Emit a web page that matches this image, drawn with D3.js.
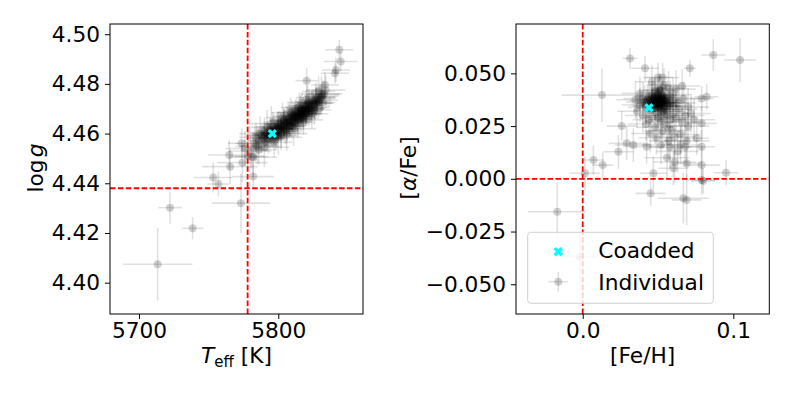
<!DOCTYPE html>
<html>
<head>
<meta charset="utf-8">
<script src="https://cdn.jsdelivr.net/npm/d3@7"></script>
<style>
  body { margin: 0; background: #fff; }
  svg { font-family: "DejaVu Sans", sans-serif; }
</style>
</head>
<body>
<svg id="chart" width="793" height="397"></svg>
<script>
// individual spectra: [Teff, logg, err Teff, err logg]
const teffLogg = [
  [5713.4, 4.4074, 25, 0.0146], [5722.3, 4.4302, 8.6, 0.0065], [5738.5, 4.4219, 7.8, 0.0045],
  [5773.2, 4.4320, 21, 0.012], [5753.3, 4.4423, 14, 0.006], [5757, 4.4397, 8, 0.005],
  [5764.8, 4.4514, 15, 0.006], [5765.4, 4.4467, 20, 0.007], [5774.2, 4.4483, 18, 0.008],
  [5773.7, 4.4561, 10, 0.006], [5780.9, 4.4507, 12, 0.005], [5782, 4.4427, 15, 0.005],
  [5843.8, 4.4937, 10, 0.004], [5844.8, 4.4890, 12, 0.004], [5841.4, 4.4856, 10, 0.005],
  [5840.7, 4.4843, 10, 0.004], [5833.5, 4.4796, 10, 0.005], [5820.4, 4.4813, 8, 0.005],
  [5831.2, 4.4749, 12, 0.005], [5827.6, 4.4722, 12, 0.005],
  [5788, 4.4572, 10, 0.005], [5790, 4.4590, 12, 0.006], [5791, 4.4566, 9, 0.004],
  [5792, 4.4601, 11, 0.005], [5793, 4.4580, 14, 0.006], [5794, 4.4612, 10, 0.005],
  [5795, 4.4595, 12, 0.005], [5796, 4.4583, 9, 0.004], [5797, 4.4620, 13, 0.006],
  [5798, 4.4604, 10, 0.005], [5799, 4.4591, 11, 0.005], [5800, 4.4628, 12, 0.006],
  [5800, 4.4610, 9, 0.004], [5801, 4.4640, 10, 0.005], [5802, 4.4602, 14, 0.006],
  [5803, 4.4625, 11, 0.005], [5804, 4.4648, 10, 0.005], [5805, 4.4617, 12, 0.006],
  [5806, 4.4636, 9, 0.004], [5807, 4.4660, 13, 0.006], [5808, 4.4630, 10, 0.005],
  [5809, 4.4651, 11, 0.005], [5810, 4.4672, 12, 0.006], [5811, 4.4642, 9, 0.004],
  [5812, 4.4663, 10, 0.005], [5813, 4.4684, 14, 0.006], [5814, 4.4655, 11, 0.005],
  [5815, 4.4676, 10, 0.005], [5816, 4.4695, 12, 0.006], [5817, 4.4668, 9, 0.004],
  [5818, 4.4688, 13, 0.006], [5819, 4.4706, 10, 0.005], [5820, 4.4680, 11, 0.005],
  [5821, 4.4700, 12, 0.006], [5822, 4.4718, 10, 0.005], [5823, 4.4693, 9, 0.004],
  [5824, 4.4712, 13, 0.006], [5825, 4.4730, 10, 0.005], [5826, 4.4705, 11, 0.005],
  [5827, 4.4724, 12, 0.006], [5828, 4.4742, 10, 0.005],
  [5789, 4.4581, 11, 0.005], [5791, 4.4598, 10, 0.005], [5793, 4.4594, 12, 0.005],
  [5795, 4.4607, 10, 0.005], [5797, 4.4603, 11, 0.005], [5798, 4.4616, 9, 0.004],
  [5799, 4.4622, 12, 0.006], [5801, 4.4619, 10, 0.005], [5802, 4.4634, 11, 0.005],
  [5803, 4.4610, 9, 0.004], [5804, 4.4630, 12, 0.006], [5805, 4.4642, 10, 0.005],
  [5806, 4.4621, 11, 0.005], [5807, 4.4645, 9, 0.004], [5808, 4.4655, 12, 0.006],
  [5809, 4.4635, 10, 0.005], [5810, 4.4658, 11, 0.005], [5811, 4.4665, 9, 0.004],
  [5812, 4.4648, 12, 0.006], [5813, 4.4670, 10, 0.005], [5814, 4.4679, 11, 0.005],
  [5815, 4.4660, 9, 0.004], [5816, 4.4682, 12, 0.006], [5817, 4.4690, 10, 0.005],
  [5818, 4.4673, 11, 0.005], [5819, 4.4693, 9, 0.004], [5820, 4.4700, 12, 0.006],
  [5821, 4.4686, 10, 0.005], [5822, 4.4703, 11, 0.005], [5824, 4.4698, 9, 0.004],
  [5826, 4.4720, 12, 0.006],
  [5796, 4.4612, 10, 0.005], [5798, 4.4598, 12, 0.005], [5800, 4.4620, 10, 0.005],
  [5802, 4.4618, 11, 0.005], [5804, 4.4638, 10, 0.005], [5806, 4.4650, 12, 0.006],
  [5808, 4.4640, 10, 0.005], [5810, 4.4650, 11, 0.005], [5812, 4.4672, 10, 0.005],
  [5814, 4.4668, 12, 0.006], [5816, 4.4673, 10, 0.005], [5818, 4.4697, 11, 0.005],
  [5790, 4.4605, 12, 0.006], [5792, 4.4578, 10, 0.005], [5794, 4.4590, 11, 0.005],
  [5796, 4.4627, 12, 0.006], [5798, 4.4585, 10, 0.005], [5800, 4.4640, 11, 0.005],
  [5802, 4.4592, 12, 0.006], [5804, 4.4655, 10, 0.005], [5806, 4.4610, 11, 0.005],
  [5808, 4.4668, 12, 0.006], [5810, 4.4630, 10, 0.005], [5812, 4.4685, 11, 0.005],
  [5814, 4.4645, 12, 0.006], [5816, 4.4700, 10, 0.005], [5818, 4.4662, 11, 0.005],
  [5820, 4.4712, 12, 0.006], [5822, 4.4680, 10, 0.005], [5824, 4.4725, 11, 0.005],
  [5826, 4.4695, 12, 0.006], [5828, 4.4730, 10, 0.005], [5830, 4.4748, 11, 0.005],
  [5832, 4.4755, 12, 0.006], [5786, 4.4570, 11, 0.005], [5788, 4.4592, 10, 0.005],
  [5784, 4.4552, 12, 0.006],
  [5815, 4.4690, 11, 0.005], [5817, 4.4705, 12, 0.006], [5819, 4.4680, 10, 0.005],
  [5821, 4.4712, 11, 0.005], [5823, 4.4705, 12, 0.006], [5825, 4.4718, 10, 0.005],
  [5827, 4.4735, 11, 0.005], [5829, 4.4725, 12, 0.006], [5831, 4.4742, 10, 0.005],
  [5833, 4.4760, 11, 0.005], [5820, 4.4692, 12, 0.006], [5822, 4.4728, 10, 0.005],
  [5817, 4.4677, 11, 0.005], [5813, 4.4660, 12, 0.006], [5811, 4.4675, 10, 0.005],
  [5783, 4.4560, 14, 0.007], [5785, 4.4548, 16, 0.007], [5784, 4.4585, 12, 0.006],
  [5787, 4.4600, 15, 0.007], [5786, 4.4535, 13, 0.006], [5790, 4.4545, 18, 0.008],
  [5792, 4.4625, 14, 0.007], [5795, 4.4640, 16, 0.007], [5797, 4.4565, 13, 0.006],
  [5800, 4.4585, 17, 0.007], [5803, 4.4665, 12, 0.006], [5806, 4.4600, 15, 0.007],
  [5809, 4.4685, 14, 0.006], [5811, 4.4620, 16, 0.007], [5815, 4.4705, 13, 0.006],
  [5818, 4.4655, 14, 0.006], [5821, 4.4725, 15, 0.007], [5824, 4.4680, 12, 0.006],
  [5827, 4.4745, 14, 0.006], [5830, 4.4735, 13, 0.006], [5831, 4.4760, 15, 0.007],
  [5829, 4.4770, 12, 0.006], [5834, 4.4775, 14, 0.006], [5780, 4.4530, 15, 0.007],
  [5778, 4.4510, 12, 0.006], [5782, 4.4505, 17, 0.008], [5776, 4.4540, 14, 0.007]
];

// individual spectra: [[Fe/H], [alpha/Fe], err Fe/H, err alpha/Fe]
const fehAlpha = [
  [0.046, 0.0360, 0.010, 0.007], [0.048, 0.0372, 0.012, 0.008], [0.050, 0.0355, 0.009, 0.006],
  [0.052, 0.0380, 0.011, 0.007], [0.049, 0.0390, 0.010, 0.007], [0.051, 0.0345, 0.012, 0.008],
  [0.053, 0.0365, 0.010, 0.007], [0.047, 0.0335, 0.011, 0.007], [0.054, 0.0350, 0.009, 0.006],
  [0.050, 0.0400, 0.012, 0.008], [0.045, 0.0375, 0.010, 0.007], [0.055, 0.0385, 0.011, 0.007],
  [0.048, 0.0350, 0.010, 0.007], [0.052, 0.0330, 0.012, 0.008], [0.043, 0.0355, 0.011, 0.007],
  [0.056, 0.0360, 0.010, 0.007], [0.049, 0.0365, 0.009, 0.006], [0.051, 0.0375, 0.011, 0.007],
  [0.047, 0.0385, 0.012, 0.008], [0.053, 0.0395, 0.010, 0.007], [0.044, 0.0345, 0.011, 0.007],
  [0.050, 0.0340, 0.010, 0.007], [0.054, 0.0372, 0.012, 0.008], [0.046, 0.0395, 0.010, 0.007],
  [0.052, 0.0358, 0.009, 0.006], [0.049, 0.0378, 0.011, 0.007], [0.041, 0.0365, 0.012, 0.008],
  [0.057, 0.0345, 0.010, 0.007], [0.045, 0.0325, 0.011, 0.007], [0.053, 0.0320, 0.012, 0.008],
  [0.048, 0.0410, 0.010, 0.007], [0.051, 0.0420, 0.011, 0.007], [0.040, 0.0380, 0.013, 0.008],
  [0.038, 0.0350, 0.012, 0.008], [0.058, 0.0395, 0.011, 0.007], [0.047, 0.0368, 0.010, 0.007],
  [0.050, 0.0383, 0.009, 0.006], [0.052, 0.0368, 0.011, 0.007], [0.055, 0.0330, 0.012, 0.008],
  [0.044, 0.0390, 0.010, 0.007],
  [0.049, 0.0352, 0.010, 0.007], [0.051, 0.0362, 0.011, 0.007], [0.047, 0.0357, 0.010, 0.007],
  [0.053, 0.0377, 0.012, 0.008], [0.050, 0.0370, 0.009, 0.006], [0.048, 0.0387, 0.011, 0.007],
  [0.052, 0.0392, 0.010, 0.007], [0.046, 0.0345, 0.012, 0.008], [0.054, 0.0342, 0.010, 0.007],
  [0.050, 0.0360, 0.011, 0.007],
  [0.050, 0.0365, 0.010, 0.007], [0.052, 0.0372, 0.011, 0.007], [0.054, 0.0362, 0.010, 0.007],
  [0.048, 0.0360, 0.012, 0.008], [0.051, 0.0352, 0.010, 0.007], [0.053, 0.0385, 0.011, 0.007],
  [0.049, 0.0345, 0.010, 0.007], [0.055, 0.0370, 0.012, 0.008], [0.046, 0.0380, 0.010, 0.007],
  [0.052, 0.0348, 0.011, 0.007], [0.043, 0.0370, 0.012, 0.008], [0.058, 0.0360, 0.012, 0.008],
  [0.056, 0.0320, 0.012, 0.008], [0.060, 0.0345, 0.013, 0.008], [0.042, 0.0340, 0.012, 0.008],
  [0.055, 0.0300, 0.012, 0.008], [0.058, 0.0280, 0.013, 0.009], [0.052, 0.0270, 0.011, 0.008],
  [0.060, 0.0310, 0.012, 0.008], [0.062, 0.0290, 0.014, 0.009], [0.056, 0.0250, 0.013, 0.009],
  [0.050, 0.0290, 0.012, 0.008], [0.064, 0.0330, 0.012, 0.008], [0.066, 0.0270, 0.014, 0.009],
  [0.059, 0.0230, 0.013, 0.009], [0.053, 0.0225, 0.012, 0.008], [0.068, 0.0300, 0.013, 0.009],
  [0.061, 0.0200, 0.014, 0.010], [0.057, 0.0180, 0.013, 0.009], [0.070, 0.0250, 0.014, 0.009],
  [0.065, 0.0210, 0.013, 0.009], [0.048, 0.0245, 0.012, 0.008], [0.044, 0.0280, 0.011, 0.008],
  [0.040, 0.0300, 0.012, 0.008], [0.036, 0.0320, 0.013, 0.008], [0.063, 0.0360, 0.012, 0.008],
  [0.067, 0.0380, 0.013, 0.008], [0.060, 0.0400, 0.012, 0.008], [0.062, 0.0425, 0.013, 0.009],
  [0.057, 0.0430, 0.012, 0.008], [0.054, 0.0445, 0.011, 0.008], [0.070, 0.0340, 0.014, 0.009],
  [0.072, 0.0310, 0.013, 0.009], [0.058, 0.0150, 0.014, 0.010], [0.052, 0.0160, 0.013, 0.009],
  [0.063, 0.0130, 0.014, 0.010], [0.056, 0.0100, 0.015, 0.010], [0.049, 0.0195, 0.012, 0.008],
  [0.045, 0.0215, 0.013, 0.009], [0.074, 0.0280, 0.014, 0.010], [0.069, 0.0180, 0.015, 0.010],
  [0.061, 0.0080, 0.014, 0.010], [0.051, 0.0420, 0.012, 0.008], [0.046, 0.0460, 0.011, 0.008],
  [0.050, 0.0480, 0.010, 0.007], [0.053, 0.0480, 0.011, 0.007], [0.066, 0.0440, 0.012, 0.008],
  [0.038, 0.0405, 0.012, 0.008], [0.035, 0.0375, 0.013, 0.009], [0.042, 0.0260, 0.012, 0.008],
  [0.065, 0.0160, 0.013, 0.009],
  [0.0314, 0.0571, 0.005, 0.005], [0.0414, 0.0524, 0.009, 0.006], [0.0867, 0.0587, 0.008, 0.0075],
  [0.1045, 0.0563, 0.0105, 0.0105], [0.0712, 0.0524, 0.004, 0.004], [0.0128, 0.0397, 0.027, 0.0126],
  [0.0259, 0.0250, 0.010, 0.007], [0.0071, 0.0089, 0.007, 0.007], [0.0133, 0.0065, 0.007, 0.006],
  [0.0015, 0.0026, 0.010, 0.008], [-0.0169, -0.0156, 0.0194, 0.014], [-0.0018, -0.0370, 0.012, 0.012],
  [0.0451, -0.0069, 0.010, 0.006], [0.0469, 0.0026, 0.009, 0.008], [0.0602, 0.0050, 0.010, 0.008],
  [0.0668, -0.0092, 0.017, 0.012], [0.0690, -0.0100, 0.010, 0.012], [0.0790, 0.0065, 0.012, 0.009],
  [0.0790, -0.0006, 0.010, 0.007], [0.0952, 0.0029, 0.008, 0.006], [0.0800, -0.0010, 0.008, 0.006],
  [0.0690, 0.0073, 0.010, 0.008], [0.0790, 0.0152, 0.009, 0.008], [0.0679, 0.0152, 0.009, 0.008],
  [0.0757, 0.0192, 0.008, 0.008], [0.0790, 0.0263, 0.010, 0.008], [0.0823, 0.0389, 0.008, 0.006],
  [0.0790, 0.0381, 0.008, 0.006], [0.0237, 0.0128, 0.010, 0.008], [0.0336, 0.0160, 0.012, 0.008],
  [0.0292, 0.0168, 0.012, 0.008], [0.0425, 0.0152, 0.012, 0.008]
];

// coadded spectrum
const coaddTeffLogg = [5795.7, 4.460];
const coaddFehAlpha = [0.044, 0.0337];

// solar reference lines
const sunTeffLogg = [5778, 4.438];
const sunFehAlpha = [0, 0];

const teffTicks = [5700, 5800];
const loggTicks = [4.40, 4.42, 4.44, 4.46, 4.48, 4.50];
const fehTicks = [0.0, 0.1];
const alphaTicks = [-0.050, -0.025, 0.000, 0.025, 0.050];

const legendLabels = ["Coadded", "Individual"];

const svg = d3.select("#chart");
const fontSize = 21.7;
const plotTop = 24, plotBottom = 314;
const lineAlpha = 0.12, markAlpha = 0.18;

function drawPanel(opts) {
  const x = d3.scaleLinear().domain(opts.xDomain).range([opts.left, opts.right]);
  const y = d3.scaleLinear().domain(opts.yDomain).range([plotBottom, plotTop]);
  const g = svg.append("g");

  const clipId = "clip" + opts.id;
  svg.append("clipPath").attr("id", clipId)
    .append("rect")
    .attr("x", opts.left).attr("y", plotTop)
    .attr("width", opts.right - opts.left).attr("height", plotBottom - plotTop);

  const plot = g.append("g").attr("clip-path", `url(#${clipId})`);

  // error bars
  const pts = plot.selectAll(".pt").data(opts.data).enter().append("g").attr("class", "pt");
  pts.append("line")
    .attr("x1", d => x(d[0] - d[2])).attr("x2", d => x(d[0] + d[2]))
    .attr("y1", d => y(d[1])).attr("y2", d => y(d[1]))
    .attr("stroke", "#000").attr("stroke-opacity", lineAlpha).attr("stroke-width", 1.6);
  pts.append("line")
    .attr("x1", d => x(d[0])).attr("x2", d => x(d[0]))
    .attr("y1", d => y(d[1] - d[3])).attr("y2", d => y(d[1] + d[3]))
    .attr("stroke", "#000").attr("stroke-opacity", lineAlpha).attr("stroke-width", 1.6);
  pts.append("circle")
    .attr("cx", d => x(d[0])).attr("cy", d => y(d[1])).attr("r", 4)
    .attr("fill", "#000").attr("fill-opacity", markAlpha);

  // reference lines
  plot.append("line")
    .attr("x1", x(opts.sun[0])).attr("x2", x(opts.sun[0]))
    .attr("y1", plotTop).attr("y2", plotBottom)
    .attr("stroke", "red").attr("stroke-width", 1.8).attr("stroke-dasharray", "5.5,2.4");
  plot.append("line")
    .attr("x1", opts.left).attr("x2", opts.right)
    .attr("y1", y(opts.sun[1])).attr("y2", y(opts.sun[1]))
    .attr("stroke", "red").attr("stroke-width", 1.8).attr("stroke-dasharray", "5.5,2.4");

  // coadded marker
  plot.append("path")
    .attr("d", d3.symbol(d3.symbolCross, 55)())
    .attr("transform", `translate(${x(opts.coadd[0])},${y(opts.coadd[1])}) rotate(45)`)
    .attr("fill", "cyan");

  // axes
  const xAxis = g.append("g")
    .attr("transform", `translate(0,${plotBottom})`)
    .call(d3.axisBottom(x).tickValues(opts.xTicks).tickFormat(d3.format(opts.xFmt)).tickSize(5).tickPadding(4));
  const yAxis = g.append("g")
    .attr("transform", `translate(${opts.left},0)`)
    .call(d3.axisLeft(y).tickValues(opts.yTicks).tickFormat(d3.format(opts.yFmt)).tickSize(5).tickPadding(5));
  [xAxis, yAxis].forEach(a => {
    a.select(".domain").remove();
    a.selectAll("text").attr("font-size", fontSize).attr("font-family", "DejaVu Sans").attr("fill", "#000");
    a.selectAll("line").attr("stroke", "#000");
  });

  g.append("rect")
    .attr("x", opts.left).attr("y", plotTop)
    .attr("width", opts.right - opts.left).attr("height", plotBottom - plotTop)
    .attr("fill", "none").attr("stroke", "#000").attr("stroke-width", 1);

  return { g, x, y };
}

// left panel
const leftPanel = drawPanel({
  id: "L", left: 110, right: 363,
  xDomain: [5679.2, 5860.8], yDomain: [4.3874, 4.5041],
  data: teffLogg, coadd: coaddTeffLogg, sun: sunTeffLogg,
  xTicks: teffTicks, yTicks: loggTicks, xFmt: "d", yFmt: ".2f"
});

const xl = leftPanel.g.append("text")
  .attr("x", 236.5).attr("y", 363).attr("text-anchor", "middle").attr("font-size", fontSize);
xl.append("tspan").attr("font-style", "italic").text("T");
xl.append("tspan").attr("font-size", 15).attr("dy", 4).text("eff");
xl.append("tspan").attr("dy", -4).text(" [K]");

const yl = leftPanel.g.append("text")
  .attr("transform", "translate(43,168) rotate(-90)")
  .attr("text-anchor", "middle").attr("font-size", fontSize);
yl.append("tspan").text("log");
yl.append("tspan").attr("font-style", "italic").attr("dx", 2).text("g");

// right panel
const rightPanel = drawPanel({
  id: "R", left: 516, right: 769.3,
  xDomain: [-0.0443, 0.1239], yDomain: [-0.0641, 0.0734],
  data: fehAlpha, coadd: coaddFehAlpha, sun: sunFehAlpha,
  xTicks: fehTicks, yTicks: alphaTicks, xFmt: ".1f", yFmt: ".3f"
});

rightPanel.g.append("text")
  .attr("x", 642.7).attr("y", 363).attr("text-anchor", "middle").attr("font-size", fontSize)
  .text("[Fe/H]");

const yr = rightPanel.g.append("text")
  .attr("transform", "translate(416,168) rotate(-90)")
  .attr("text-anchor", "middle").attr("font-size", fontSize);
yr.append("tspan").text("[");
yr.append("tspan").attr("font-style", "italic").text("α");
yr.append("tspan").text("/Fe]");

// legend
const lg = rightPanel.g.append("g");
lg.append("rect")
  .attr("x", 527.7).attr("y", 232.3).attr("width", 185.6).attr("height", 71)
  .attr("rx", 3).attr("fill", "#fff").attr("fill-opacity", 0.8)
  .attr("stroke", "#d0d0d0").attr("stroke-width", 1);
lg.append("path")
  .attr("d", d3.symbol(d3.symbolCross, 55)())
  .attr("transform", "translate(558.3,251.7) rotate(45)")
  .attr("fill", "cyan");
lg.append("line").attr("x1", 548.3).attr("x2", 568.3).attr("y1", 281.7).attr("y2", 281.7)
  .attr("stroke", "#000").attr("stroke-opacity", lineAlpha).attr("stroke-width", 1.6);
lg.append("line").attr("x1", 558.3).attr("x2", 558.3).attr("y1", 271.7).attr("y2", 291.7)
  .attr("stroke", "#000").attr("stroke-opacity", lineAlpha).attr("stroke-width", 1.6);
lg.append("circle").attr("cx", 558.3).attr("cy", 281.7).attr("r", 4)
  .attr("fill", "#000").attr("fill-opacity", markAlpha);
lg.selectAll(".lt").data(legendLabels).enter().append("text")
  .attr("x", 598.3).attr("y", (d, i) => 258.3 + i * 31.7)
  .attr("font-size", fontSize).text(d => d);
</script>
</body>
</html>
